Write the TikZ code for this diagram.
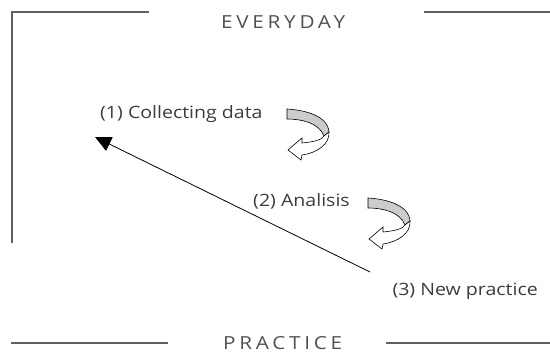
\documentclass[tikz,border=0pt]{standalone}
\usepackage{fontspec}
\setmainfont{Open Sans}
\usetikzlibrary{arrows.meta}
\definecolor{txtgray}{HTML}{3C3C3C}
\definecolor{headgray}{HTML}{505050}
\definecolor{rulegray}{HTML}{606060}
\definecolor{bandgray}{HTML}{CCCCCC}
% slightly widened lettering
\newcommand{\widetext}[1]{\scalebox{1.15}[1]{#1}}
\tikzset{
  lbl/.style={font=\fontsize{17}{19}\selectfont, text=txtgray, inner sep=0pt},
  heading/.style={font=\fontsize{18}{20}\selectfont\addfontfeatures{LetterSpace=18}, text=headgray, inner sep=0pt, anchor=west},
  ruleline/.style={draw=rulegray, line width=1.3pt},
  mainarrow/.style={draw=black, line width=0.8pt, -{Triangle[length=16pt,width=15pt]}},
  turnarrow/.pic={
    % inner (grey) face of the twisted band
    \filldraw[fill=bandgray, draw=black, line width=0.6pt]
      (0,1) .. controls (18,2) and (41,8) .. (42,24) -- (37,28)
      .. controls (32,15) and (15,11) .. (0,11) -- cycle;
    % outer (white) face ending in the arrow head
    \filldraw[fill=white, draw=black, line width=0.6pt]
      (42,24) .. controls (43,36) and (30,45) .. (15,47) -- (14,52) -- (1,42)
      -- (15,30) -- (15,35) .. controls (26,34) and (35,32) .. (37,28) -- cycle;
  }
}
\begin{document}
\begin{tikzpicture}[x=1pt,y=-1pt]
\useasboundingbox (0,0) rectangle (550,355);

% frame rules
\draw[ruleline] (149,12) -- (12,12) -- (12,243);
\draw[ruleline] (424,12) -- (550,12);
\draw[ruleline] (11,343) -- (168,343);
\draw[ruleline] (386,343) -- (550,343);

% headings
\node[heading] (everyday) at (221,22) {\widetext{EVERYDAY}};
\node[heading] (practice) at (223,343.5) {\widetext{PRACTICE}};

% steps
\node[lbl, anchor=west] (collect) at (100,114) {\widetext{(1) Collecting data}};
\node[lbl, anchor=east] (analysis) at (350,201) {\widetext{(2) Analisis}};
\node[lbl, anchor=east] (newpractice) at (538,291.5) {\widetext{(3) New practice}};

% cycle arrows
\pic (turnA) at (287,108) {turnarrow};
\pic (turnB) at (368,197) {turnarrow};

% main arrow
\coordinate (lineStart) at (370,272);
\coordinate (lineEnd) at (95,137);
\draw[mainarrow] (lineStart) -- (lineEnd);
\end{tikzpicture}
\end{document}
